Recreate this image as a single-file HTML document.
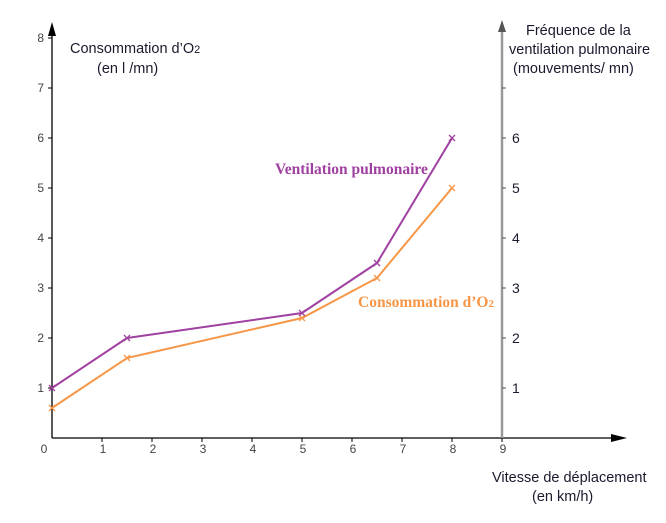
<!DOCTYPE html>
<html><head><meta charset="utf-8"><style>
body{margin:0;background:#fff}
svg{display:block}
text{font-family:"Liberation Sans",sans-serif}
</style></head><body>
<svg id="chart" width="666" height="523">
<g id="axes"></g>
<g id="marks"></g>
<text x="70" y="53" font-size="14.5" fill="#1a1a2e">Consommation d’O<tspan font-size="11">2</tspan></text>
<text x="97" y="73" font-size="14.5" fill="#1a1a2e">(en l /mn)</text>
<text x="526" y="35" font-size="14.5" fill="#1a1a2e">Fréquence de la</text>
<text x="509" y="54" font-size="14.5" fill="#1a1a2e">ventilation pulmonaire</text>
<text x="513" y="73" font-size="14.5" fill="#1a1a2e">(mouvements/ mn)</text>
<text x="492" y="482" font-size="14.5" fill="#1a1a2e">Vitesse de déplacement</text>
<text x="532" y="501" font-size="14.5" fill="#1a1a2e">(en km/h)</text>
<text x="275" y="174" font-size="15.5" font-weight="bold" fill="#a040a0" style="font-family:'Liberation Serif',serif">Ventilation pulmonaire</text>
<text x="358" y="307" font-size="15.5" font-weight="bold" fill="#f79646" style="font-family:'Liberation Serif',serif">Consommation d’O<tspan font-size="11">2</tspan></text>
</svg>
<script>
const speeds=[0,1.5,5,6.5,8];
const ventilation=[1,2,2.5,3.5,6];
const consommation=[0.6,1.6,2.4,3.2,5];
const xTicks=[1,2,3,4,5,6,7,8,9];
const yTicks=[1,2,3,4,5,6,7,8];
const rightTicks=[1,2,3,4,5,6];
const NS="http://www.w3.org/2000/svg";
const X=v=>52+v*50, Y=v=>438-v*50;
const axes=document.getElementById('axes'), marks=document.getElementById('marks');
function mk(tag,attrs,parent){const e=document.createElementNS(NS,tag);for(const k in attrs)e.setAttribute(k,attrs[k]);parent.appendChild(e);return e;}
let e=mk('line',{x1:52,y1:438,x2:52,y2:30,stroke:'#000','stroke-width':1.3},axes);


e=mk('polygon',{points:'52,22 48,36 56,36',fill:'#000'},axes);


e=mk('line',{x1:52,y1:438,x2:615,y2:438,stroke:'#000','stroke-width':1.3},axes);


e=mk('polygon',{points:'627,438 611,434 611,442',fill:'#000'},axes);


e=mk('line',{x1:502,y1:438,x2:502,y2:30,stroke:'#999','stroke-width':2.5},axes);


e=mk('polygon',{points:'502,20 498,32 506,32',fill:'#555'},axes);


let t=mk('text',{x:44,y:453,'font-size':12,fill:'#444','text-anchor':'middle'},axes);t.textContent='0';


xTicks.forEach(v=>{
  const l=mk('line',{x1:X(v),y1:438,x2:X(v),y2:442,stroke:'#000'},axes);
  
  
  const s=mk('text',{x:X(v)+1,y:453,'font-size':12,fill:'#444','text-anchor':'middle'},axes);s.textContent=v;
  
  
});
yTicks.forEach(v=>{
  const l=mk('line',{x1:48,y1:Y(v),x2:52,y2:Y(v),stroke:'#000'},axes);
  
  
  const s=mk('text',{x:44,y:Y(v)+4,'font-size':12,fill:'#444','text-anchor':'end'},axes);s.textContent=v;
  
  
});
[...rightTicks,7].forEach(v=>{
  const l=mk('line',{x1:502,y1:Y(v),x2:506,y2:Y(v),stroke:'#555'},axes);
  
  
});
rightTicks.forEach(v=>{
  const s=mk('text',{x:512,y:Y(v)+5,'font-size':14,fill:'#1a1a2e'},axes);s.textContent=v;
  
  
});
function series(vals,color,name){
  const p=mk('polyline',{points:speeds.map((s,i)=>X(s)+','+Y(vals[i])).join(' '),fill:'none',stroke:color,'stroke-width':2},marks);
  
  
  speeds.forEach((s,i)=>{
    const x=X(s),y=Y(vals[i]);
    const m=mk('path',{d:`M${x-3},${y-3}L${x+3},${y+3}M${x-3},${y+3}L${x+3},${y-3}`,stroke:color,'stroke-width':1.3},marks);
    
    
  });
}
series(consommation,'#f79646','consommation');
series(ventilation,'#a040a0','ventilation');
</script>
</body></html>
